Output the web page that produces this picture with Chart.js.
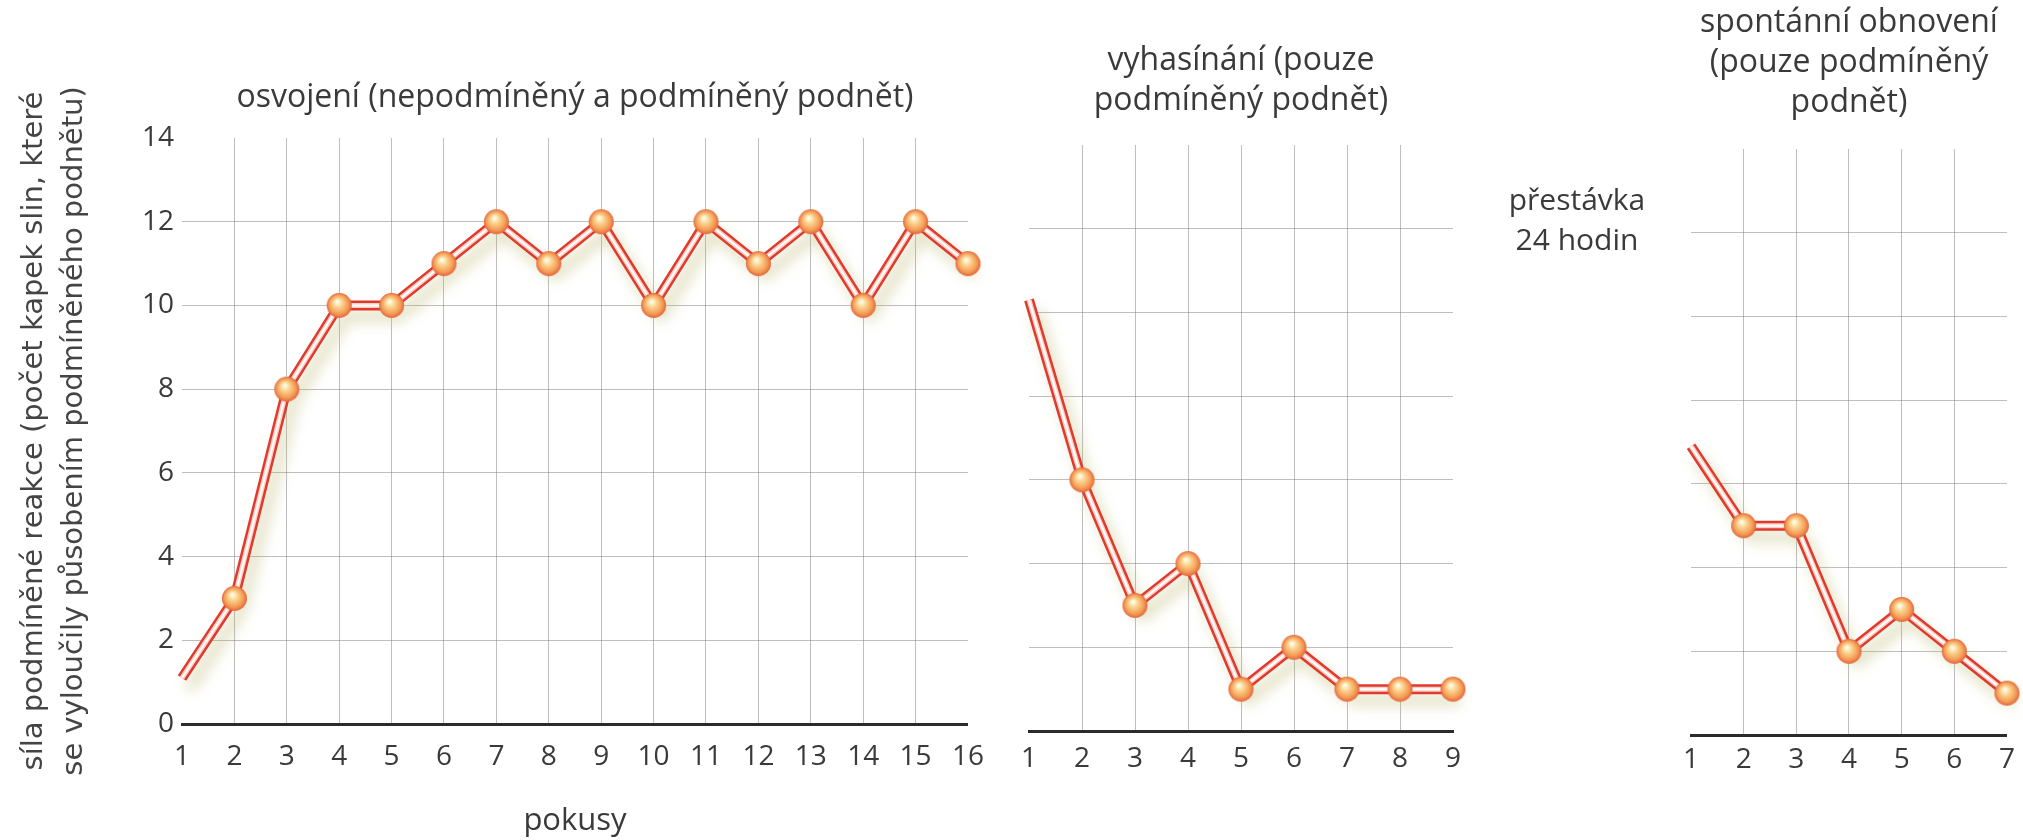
<!DOCTYPE html>
<html>
<head>
<meta charset="utf-8">
<script src="https://cdn.jsdelivr.net/npm/chart.js@4.4.1/dist/chart.umd.min.js"></script>
<style>
  html, body { margin: 0; padding: 0; background: #fff; }
  body { width: 2023px; height: 840px; position: relative; overflow: hidden; }
  canvas { position: absolute; top: 0; }
  #c1 { left: 0; }
  #c2 { left: 1000px; }
  #c3 { left: 1560px; }
  .pause {
    position: absolute; left: 1427px; top: 179px; width: 300px;
    text-align: center; font: 30px/40px 'Open Sans', sans-serif; color: #3a3a3a;
  }
</style>
</head>
<body>
<canvas id="c1" width="1000" height="840"></canvas>
<canvas id="c2" width="480" height="840"></canvas>
<canvas id="c3" width="463" height="840"></canvas>
<div class="pause">přestávka<br>24 hodin</div>

<script>
// ---- data ----
const acquisitionTrials = ['1','2','3','4','5','6','7','8','9','10','11','12','13','14','15','16'];
const acquisitionDrops  = [1.1, 3, 8, 10, 10, 11, 12, 11, 12, 10, 12, 11, 12, 10, 12, 11];

const extinctionTrials = ['1','2','3','4','5','6','7','8','9'];
const extinctionDrops  = [10.3, 6, 3, 4, 1, 2, 1, 1, 1];

const recoveryTrials = ['1','2','3','4','5','6','7'];
const recoveryDrops  = [6.9, 5, 5, 2, 3, 2, 1];

const yTickValues = [0, 2, 4, 6, 8, 10, 12, 14];

const yTitleLines = [
  'síla podmíněné reakce (počet kapek slin, které',
  'se vyloučily působením podmíněného podnětu)'
];

// ---- look ----
const TEXT = '#3a3a3a';
const GRID = 'rgba(110,110,110,0.45)';
const AXIS = '#2b2b2b';
const TITLE_FONT = { family: "'Open Sans', sans-serif", size: 32, weight: 'normal', lineHeight: '40px' };
const TICK_FONT = { family: "'Open Sans', sans-serif", size: 28 };

// orange bead used as point marker
function makeBead(r) {
  const s = r * 2 + 2;
  const c = document.createElement('canvas');
  c.width = s; c.height = s;
  const g = c.getContext('2d');
  const grad = g.createRadialGradient(s * 0.42, s * 0.36, 1, s / 2, s / 2, r);
  grad.addColorStop(0, '#fffbe8');
  grad.addColorStop(0.3, '#fcd590');
  grad.addColorStop(0.75, '#f49a55');
  grad.addColorStop(1, '#e2643c');
  g.fillStyle = grad;
  g.beginPath();
  g.arc(s / 2, s / 2, r, 0, Math.PI * 2);
  g.fill();
  return c;
}
const bead = makeBead(12.5);

// soft shadow under the red tube
const tubeShadow = {
  id: 'tubeShadow',
  beforeDatasetDraw(chart, args) {
    if (!chart.data.datasets[args.index].shadow) return;
    const ctx = chart.ctx;
    ctx.save();
    ctx.shadowColor = 'rgba(185,180,105,0.45)';
    ctx.shadowBlur = 14;
    ctx.shadowOffsetX = 7;
    ctx.shadowOffsetY = 11;
  },
  afterDatasetDraw(chart, args) {
    if (!chart.data.datasets[args.index].shadow) return;
    chart.ctx.restore();
  }
};

function tubeDatasets(values) {
  return [
    { data: values, showLine: false, pointStyle: bead,
      pointRadius: c => c.dataIndex === 0 ? 0 : 12, clip: false },
    { data: values, borderColor: '#ffffff', borderWidth: 2, pointRadius: 0,
      borderJoinStyle: 'round', clip: false },
    { data: values, borderColor: '#fbcfc6', borderWidth: 5, pointRadius: 0,
      borderJoinStyle: 'round', clip: false },
    { data: values, borderColor: '#e03a2c', borderWidth: 10, pointRadius: 0,
      borderJoinStyle: 'round', clip: false, shadow: true }
  ];
}

function panel(id, cfg) {
  const last = cfg.labels.length - 1;
  return new Chart(document.getElementById(id), {
    type: 'line',
    data: { labels: cfg.labels, datasets: tubeDatasets(cfg.values) },
    plugins: [tubeShadow],
    options: {
      responsive: false, animation: false, devicePixelRatio: 1,
      layout: { padding: cfg.padding },
      plugins: {
        legend: { display: false },
        tooltip: { enabled: false },
        title: {
          display: true, text: cfg.title, fullSize: false, color: TEXT,
          font: TITLE_FONT, padding: { top: 0, bottom: cfg.titleGap }
        }
      },
      scales: {
        x: {
          type: 'category', offset: false,
          grid: { color: c => (c.index === 0 || c.index === last) ? 'transparent' : GRID,
                  lineWidth: 1, drawTicks: false },
          border: { display: true, color: AXIS, width: 3 },
          ticks: { color: TEXT, font: TICK_FONT, padding: cfg.tickPad, maxRotation: 0, autoSkip: false },
          title: cfg.xTitle
            ? { display: true, text: cfg.xTitle, color: TEXT, font: { family: "'Open Sans', sans-serif", size: 31 }, padding: 0 }
            : { display: false },
          afterFit: s => { s.height = cfg.xHeight; }
        },
        y: {
          min: 0, max: 14,
          afterBuildTicks: s => { s.ticks = yTickValues.map(v => ({ value: v })); },
          grid: { color: c => (c.tick.value === 0 || c.tick.value === 14) ? 'transparent' : GRID,
                  lineWidth: 1, drawTicks: false },
          border: { display: false },
          ticks: { display: cfg.yLabels, color: TEXT, font: TICK_FONT, padding: 8 },
          title: cfg.yTitle
            ? { display: true, text: cfg.yTitle, color: '#444',
                font: { family: "'DejaVu Sans', sans-serif", size: 29, lineHeight: '40px' },
                padding: { top: 14, bottom: 0 } }
            : { display: false },
          afterFit: s => { s.width = cfg.yWidth; }
        }
      }
    }
  });
}

panel('c1', {
  labels: acquisitionTrials, values: acquisitionDrops,
  title: 'osvojení (nepodmíněný a podmíněný podnět)', titleGap: 20,
  padding: { top: 78, left: 0, right: 26, bottom: 0 },
  xHeight: 116, tickPad: 16, xTitle: 'pokusy',
  yLabels: true, yWidth: 182, yTitle: yTitleLines
});

panel('c2', {
  labels: extinctionTrials, values: extinctionDrops,
  title: ['vyhasínání (pouze', 'podmíněný podnět)'], titleGap: 24,
  padding: { top: 41, left: 29, right: 27, bottom: 49 },
  xHeight: 60, tickPad: 11,
  yLabels: false, yWidth: 0
});

panel('c3', {
  labels: recoveryTrials, values: recoveryDrops,
  title: ['spontánní obnovení', '(pouze podmíněný', 'podnět)'], titleGap: 26,
  padding: { top: 3, left: 131, right: 15, bottom: 45 },
  xHeight: 60, tickPad: 8,
  yLabels: false, yWidth: 0
});
</script>
</body>
</html>
